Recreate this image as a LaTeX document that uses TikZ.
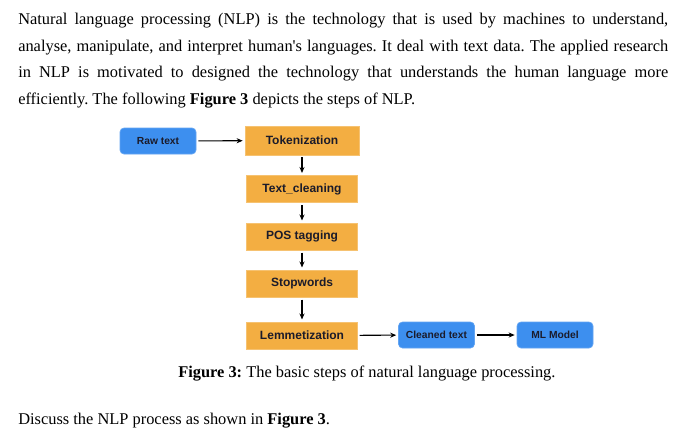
\documentclass[tikz,border=0pt]{standalone}
\usepackage{fontspec}
\setmainfont{Liberation Serif}
\newfontfamily\boxfont{Liberation Sans}
\usetikzlibrary{arrows.meta,positioning}
\frenchspacing
\definecolor{nblue}{HTML}{3D8FEF}
\definecolor{norange}{HTML}{F3AE42}
\definecolor{nink}{HTML}{1B1B2A}
\tikzset{
  stage/.style={fill=norange,draw=norange!75!white,line width=0.5pt,minimum width=83pt,minimum height=20.5pt,inner sep=2pt,font=\boxfont\bfseries\fontsize{9}{10}\selectfont,text=nink},
  endpt/.style={fill=nblue,draw=nblue!80!white,line width=0.5pt,rounded corners=3pt,minimum width=57pt,minimum height=19.5pt,inner sep=2pt,font=\boxfont\bfseries\fontsize{7.7}{9}\selectfont,text=nink},
  arr/.style={-{Stealth[length=4.5pt,width=3.8pt]},line width=0.8pt,draw=black,shorten <=1.5pt,shorten >=1.5pt},
  para/.style={font=\fontsize{12.3}{20}\selectfont,inner sep=0pt},
}
\begin{document}
\begin{tikzpicture}[x=0.75pt,y=-0.75pt]
  \useasboundingbox[fill=white] (0,0) rectangle (700,430);
  \node[para,anchor=north west,text width=487.5pt,align=justify] (intro) at (18,13) {Natural language processing (NLP) is the technology that is used by machines to understand,\linebreak analyse, manipulate, and interpret human\textquotesingle s languages. It deal with text data. The applied research\linebreak in NLP is motivated to designed the technology that understands the human language more\linebreak efficiently. The following \textbf{Figure 3} depicts the steps of NLP.};
  % pipeline
  \node[endpt] (raw) at (158,141) {Raw text};
  \node[stage,minimum width=85.5pt,minimum height=21.5pt] (tok) at (302,140.5) {Tokenization};
  \node[stage] (clean) at (302,189) {Text\_cleaning};
  \node[stage] (pos) at (302,236.5) {POS tagging};
  \node[stage] (stop) at (302,283.5) {Stopwords};
  \node[stage] (lemm) at (302,335.5) {Lemmetization};
  \node[endpt] (cleaned) at (436.5,335) {Cleaned text};
  \node[endpt] (ml) at (555,335) {ML Model};
  \draw[arr] (raw) -- (tok);
  \foreach \a/\b in {tok/clean,clean/pos,pos/stop,stop/lemm} { \draw[arr] (\a) -- (\b); }
  \draw[arr] (lemm) -- (cleaned);
  \draw[arr] (cleaned) -- (ml);
  \node[para,anchor=base west] (cap) at (178,377) {\textbf{Figure 3:} The basic steps of natural language processing.};
  \node[para,anchor=base west] (ask) at (18,424) {Discuss the NLP process as shown in \textbf{Figure 3}.};
\end{tikzpicture}
\end{document}
